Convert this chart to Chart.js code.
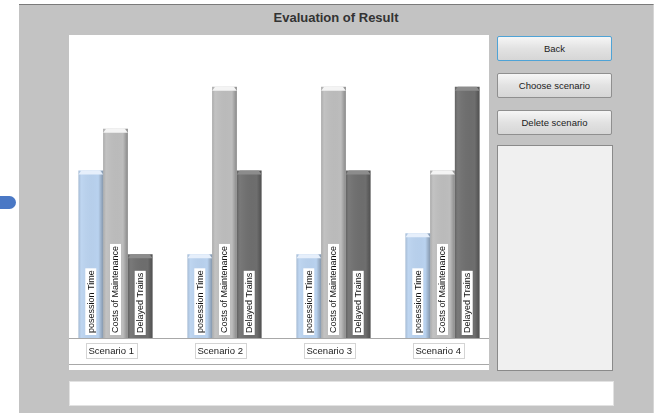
<!DOCTYPE html>
<html>
<head>
<meta charset="utf-8">
<script src="https://cdn.jsdelivr.net/npm/chart.js@4.4.1/dist/chart.umd.min.js"></script>
<style>
  html, body { margin: 0; padding: 0; background: #fff; width: 660px; height: 413px; overflow: hidden; font-family: "Liberation Sans", Arial, sans-serif; }
  .tab { position: absolute; left: 0; top: 196px; width: 16px; height: 13px; background: #4a78c5; border-radius: 0 7px 7px 0; }
  .panel { position: absolute; left: 19px; top: 4px; width: 634px; height: 420px; background: #c3c3c3; border-top: 1px solid #7a7a7a; border-right: 1px solid #d6d6d6; }
  .title { position: absolute; left: 19px; top: 10px; width: 634px; text-align: center; font-weight: bold; font-size: 13px; color: #333; }
  .plotbg { position: absolute; left: 69px; top: 35px; width: 420px; height: 335px; background: #fff; }
  canvas { position: absolute; left: 61px; top: 35px; }
  .btn { position: absolute; left: 497px; width: 113px; height: 23px; border: 1px solid #8f8f8f; border-radius: 2px;
         background: linear-gradient(#f6f6f6, #e2e2e2 50%, #d6d6d6); font-size: 9.5px; color: #222; text-align: center; line-height: 23px; }
  .btn.focus { border-color: #4fa3d6; }
  .list { position: absolute; left: 497px; top: 145px; width: 114px; height: 224px; background: #f0f0f0; border: 1px solid #8a8a8a; }
  .textbox { position: absolute; left: 69px; top: 381px; width: 543px; height: 23px; background: #fff; border: 1px solid #e2e2e2; }
</style>
</head>
<body>
<div class="tab"></div>
<div class="panel"></div>
<div class="title">Evaluation of Result</div>
<div class="plotbg"></div>
<canvas id="resultChart" width="436" height="335"></canvas>
<div class="btn focus" style="top:36px">Back</div>
<div class="btn" style="top:73px">Choose scenario</div>
<div class="btn" style="top:110px">Delete scenario</div>
<div class="list"></div>
<div class="textbox"></div>

<script>
const scenarios = ['Scenario 1', 'Scenario 2', 'Scenario 3', 'Scenario 4'];
const possessionTime = [2, 1, 1, 1.25];
const maintenanceCosts = [2.5, 3, 3, 2];
const delayedTrains = [1, 2, 2, 3];

const fillColors = ['#b9d2ef', '#bdbdbd', '#6e6e6e'];
const capColors = ['#e6effb', '#f4f4f4', '#8c8c8c'];

// 3D look of the bars plus the rotated series names inside them
const barDecor = {
    id: 'barDecor',
    afterDatasetsDraw(chart) {
        const c = chart.ctx;
        chart.data.datasets.forEach((ds, di) => {
            chart.getDatasetMeta(di).data.forEach(bar => {
                const l = bar.x - bar.width / 2;
                const r = bar.x + bar.width / 2;
                const g = c.createLinearGradient(l, 0, r, 0);
                g.addColorStop(0, 'rgba(0,0,0,0.12)');
                g.addColorStop(0.12, 'rgba(255,255,255,0.08)');
                g.addColorStop(0.8, 'rgba(0,0,0,0)');
                g.addColorStop(1, 'rgba(0,0,0,0.28)');
                c.fillStyle = g;
                c.fillRect(l, bar.y, bar.width, bar.base - bar.y);

                c.fillStyle = capColors[di];
                c.beginPath();
                c.moveTo(l, bar.y + 4);
                c.lineTo(l + 3, bar.y);
                c.lineTo(r - 3, bar.y);
                c.lineTo(r, bar.y + 4);
                c.closePath();
                c.fill();

                c.save();
                c.translate(bar.x, bar.base - 3);
                c.rotate(-Math.PI / 2);
                c.font = '9px "Liberation Sans", Arial';
                const w = c.measureText(ds.label).width;
                c.fillStyle = '#fff';
                c.fillRect(0, -5.5, w + 4, 11);
                c.fillStyle = '#111';
                c.textBaseline = 'middle';
                c.fillText(ds.label, 2, 0.5);
                c.restore();
            });
        });
    },
    afterDraw(chart) {
        const c = chart.ctx;
        const x = chart.scales.x;
        const base = chart.chartArea.bottom;
        c.save();
        c.strokeStyle = '#a8a8a8';
        c.lineWidth = 1;
        c.beginPath();
        c.moveTo(8, base + 0.5);
        c.lineTo(428, base + 0.5);
        c.moveTo(8, base + 26.5);
        c.lineTo(428, base + 26.5);
        c.stroke();

        c.font = '9.5px "Liberation Sans", Arial';
        c.textBaseline = 'middle';
        scenarios.forEach((s, i) => {
            const cx = x.getPixelForValue(i) - 4;
            const bx = Math.round(cx - 25.5) + 0.5;
            c.fillStyle = '#fff';
            c.fillRect(bx, base + 5.5, 51, 15);
            c.strokeStyle = '#d4d4d4';
            c.strokeRect(bx, base + 5.5, 51, 15);
            c.fillStyle = '#222';
            c.fillText(s, bx + 2, base + 13.5);
        });
        c.restore();
    }
};

new Chart(document.getElementById('resultChart'), {
    type: 'bar',
    data: {
        labels: scenarios,
        datasets: [
            { label: 'posession Time', data: possessionTime, backgroundColor: fillColors[0] },
            { label: 'Costs of Maintenance', data: maintenanceCosts, backgroundColor: fillColors[1] },
            { label: 'Delayed Trains', data: delayedTrains, backgroundColor: fillColors[2] }
        ]
    },
    options: {
        responsive: false,
        animation: false,
        layout: { padding: { top: 10, bottom: 32, left: 0, right: 0 } },
        datasets: { bar: { categoryPercentage: 0.68, barPercentage: 1 } },
        scales: {
            x: { display: false },
            y: { display: false, min: 0, max: 3.5 }
        },
        plugins: {
            legend: { display: false },
            tooltip: { enabled: false }
        }
    },
    plugins: [barDecor]
});
</script>
</body>
</html>
